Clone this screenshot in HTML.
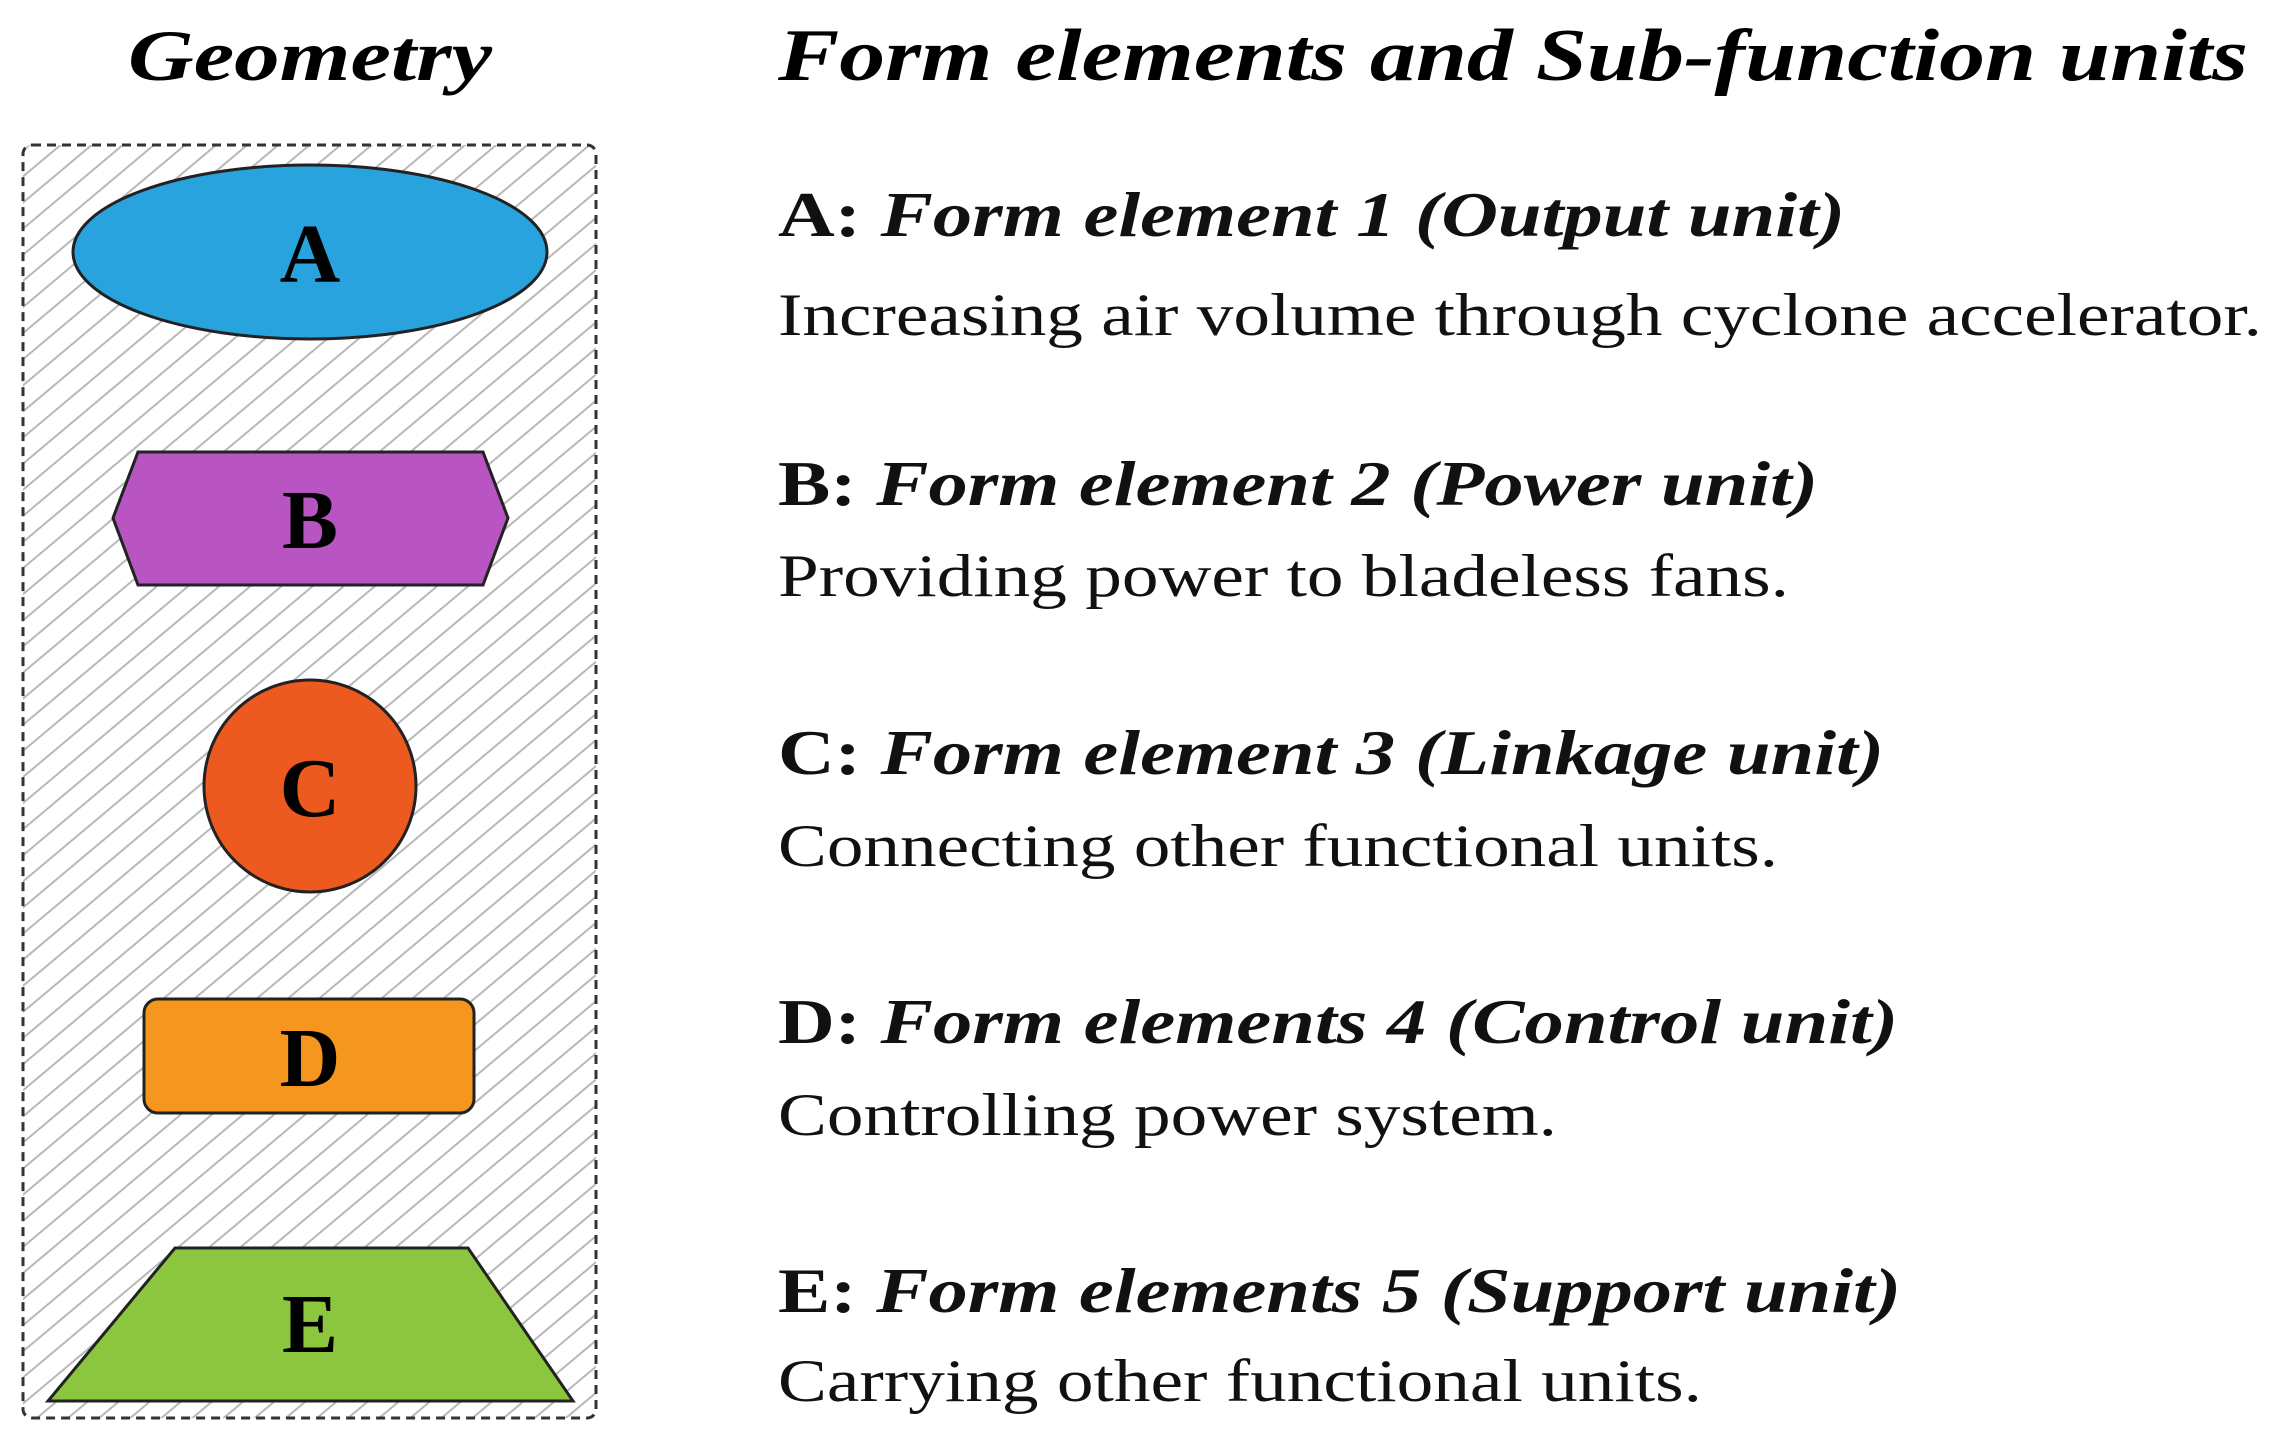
<!DOCTYPE html>
<html><head><meta charset="utf-8"><style>html,body{margin:0;padding:0;background:#fff}svg{display:block}</style></head>
<body>
<svg width="2281" height="1436" viewBox="0 0 2281 1436" xmlns="http://www.w3.org/2000/svg">
<defs>
<pattern id="h" width="20" height="20" patternUnits="userSpaceOnUse" patternTransform="rotate(-40)">
<line x1="0" y1="10" x2="20" y2="10" stroke="#b8b8b8" stroke-width="2"/>
</pattern>
</defs>
<rect width="2281" height="1436" fill="#fff"/>
<g font-family="'Liberation Serif', serif" fill="#000">
<text x="310" y="80" font-size="72" font-weight="bold" font-style="italic" text-anchor="middle" textLength="364" lengthAdjust="spacingAndGlyphs">Geometry</text>
<text x="778" y="80" font-size="74" font-weight="bold" font-style="italic" textLength="1470" lengthAdjust="spacingAndGlyphs">Form elements and Sub-function units</text>
</g>
<rect x="23" y="145" width="573" height="1273" rx="9" fill="url(#h)" stroke="#333" stroke-width="3" stroke-dasharray="9,6"/>
<ellipse cx="310" cy="252" rx="237" ry="87" fill="#29a3dd" stroke="#222" stroke-width="3"/>
<polygon points="113,518 138,452 483,452 508,518 483,585 138,585" fill="#b855c3" stroke="#222" stroke-width="3"/>
<circle cx="310" cy="786" r="106" fill="#ec5a1f" stroke="#222" stroke-width="3"/>
<rect x="144" y="999" width="330" height="114" rx="14" fill="#f5961e" stroke="#222" stroke-width="3"/>
<polygon points="48,1401 175,1248 468,1248 573,1401" fill="#8cc63e" stroke="#222" stroke-width="3"/>
<g font-family="'Liberation Serif', serif" font-weight="bold" font-size="84" text-anchor="middle" fill="#000">
<text x="310" y="282">A</text>
<text x="310" y="548">B</text>
<text x="310" y="816">C</text>
<text x="310" y="1086">D</text>
<text x="310" y="1352">E</text>
</g>
<g font-family="'Liberation Serif', serif" fill="#111" font-size="64">
<text x="778" y="236" textLength="1067" lengthAdjust="spacingAndGlyphs"><tspan font-weight="bold">A: </tspan><tspan font-weight="bold" font-style="italic">Form element 1 (Output unit)</tspan></text>
<text x="778" y="335" font-size="60" textLength="1484" lengthAdjust="spacingAndGlyphs">Increasing air volume through cyclone accelerator.</text>
<text x="778" y="505" textLength="1040" lengthAdjust="spacingAndGlyphs"><tspan font-weight="bold">B: </tspan><tspan font-weight="bold" font-style="italic">Form element 2 (Power unit)</tspan></text>
<text x="778" y="596" font-size="60" textLength="1011" lengthAdjust="spacingAndGlyphs">Providing power to bladeless fans.</text>
<text x="778" y="774" textLength="1106" lengthAdjust="spacingAndGlyphs"><tspan font-weight="bold">C: </tspan><tspan font-weight="bold" font-style="italic">Form element 3 (Linkage unit)</tspan></text>
<text x="778" y="866" font-size="60" textLength="1000" lengthAdjust="spacingAndGlyphs">Connecting other functional units.</text>
<text x="778" y="1043" textLength="1120" lengthAdjust="spacingAndGlyphs"><tspan font-weight="bold">D: </tspan><tspan font-weight="bold" font-style="italic">Form elements 4 (Control unit)</tspan></text>
<text x="778" y="1135" font-size="60" textLength="779" lengthAdjust="spacingAndGlyphs">Controlling power system.</text>
<text x="778" y="1312" textLength="1123" lengthAdjust="spacingAndGlyphs"><tspan font-weight="bold">E: </tspan><tspan font-weight="bold" font-style="italic">Form elements 5 (Support unit)</tspan></text>
<text x="778" y="1401" font-size="60" textLength="924" lengthAdjust="spacingAndGlyphs">Carrying other functional units.</text>
</g>
</svg>
</body></html>
